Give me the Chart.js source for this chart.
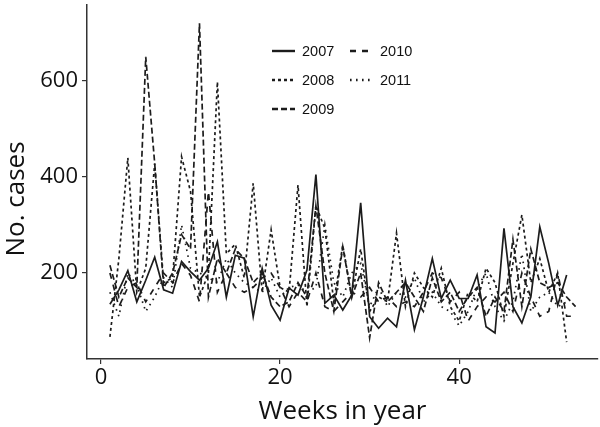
<!DOCTYPE html>
<html>
<head>
<meta charset="utf-8">
<script src="https://cdn.jsdelivr.net/npm/chart.js@4/dist/chart.umd.min.js"></script>
<style>
  html, body { margin: 0; padding: 0; background: #fff; }
  #wrap { width: 600px; height: 427px; }
</style>
</head>
<body>
<div id="wrap"><canvas id="chart" width="600" height="427"></canvas></div>
<script>
const weeks = [1, 2, 3, 4, 5, 6, 7, 8, 9, 10, 11, 12, 13, 14, 15, 16, 17, 18, 19, 20,
  21, 22, 23, 24, 25, 26, 27, 28, 29, 30, 31, 32, 33, 34, 35, 36, 37, 38, 39, 40,
  41, 42, 43, 44, 45, 46, 47, 48, 49, 50, 51, 52, 53];

const years = ['2007', '2008', '2009', '2010', '2011'];

const cases2007 = [135, 165, 205, 140, 185, 233, 165, 158, 224, 203, 185, 210, 265, 150, 237, 231, 109, 210, 133, 102,
  169, 154, 206, 405, 137, 154, 123, 154, 346, 109, 85, 106, 88, 185, 82, 150, 230, 147, 185, 147,
  147, 196, 88, 75, 293, 130, 96, 150, 296, 220, 133, 196];
const cases2008 = [67, 230, 440, 160, 210, 428, 180, 190, 442, 370, 150, 200, 598, 240, 260, 190, 387, 160, 290, 170,
  160, 383, 130, 340, 293, 140, 258, 150, 250, 120, 150, 140, 283, 130, 200, 170, 150, 210, 130, 100,
  160, 140, 210, 180, 110, 220, 321, 180, 230, 160, 200, 56];
const cases2009 = [216, 150, 190, 170, 650, 428, 170, 200, 280, 250, 720, 150, 230, 200, 250, 230, 180, 200, 150, 130,
  140, 180, 150, 340, 200, 120, 255, 150, 200, 65, 180, 140, 160, 180, 150, 120, 190, 140, 160, 120,
  150, 170, 110, 150, 120, 270, 130, 250, 180, 170, 180, 150, 130];
const cases2010 = [200, 130, 170, 180, 140, 170, 200, 180, 220, 195, 140, 370, 160, 200, 170, 160, 170, 190, 200, 170,
  130, 160, 140, 200, 130, 120, 140, 160, 150, 170, 140, 150, 130, 140, 130, 160, 200, 190, 140, 160,
  100, 130, 150, 140, 160, 120, 200, 150, 110, 120, 200, 110, 110];
const cases2011 = [160, 110, 200, 175, 120, 150, 190, 170, 300, 210, 200, 190, 180, 230, 200, 180, 170, 160, 190, 150,
  170, 175, 160, 170, 300, 180, 150, 200, 220, 130, 170, 130, 160, 150, 190, 140, 160, 130, 120, 90,
  120, 170, 200, 130, 100, 140, 240, 120, 150, 160, 130, 140];

const xTicks = [0, 20, 40];
const yTicks = [200, 400, 600];

const seriesValues = [cases2007, cases2008, cases2009, cases2010, cases2011];
const dashes = [[], [3, 3], [6, 3], [6, 6], [1.6, 4.4]];
const INK = '#1c1c1c';
const FONT = '"Open Sans", sans-serif';

const toPoints = (vals) => vals.map((v, i) => ({ x: weeks[i], y: v }));

// Legend drawn inside the plot, two columns like the original
const innerLegend = {
  id: 'innerLegend',
  afterDatasetsDraw(chart) {
    const ctx = chart.ctx;
    ctx.save();
    ctx.font = '14.5px "Liberation Sans", Arial, sans-serif';
    ctx.textBaseline = 'middle';
    ctx.fillStyle = '#111';
    chart.data.datasets.forEach((ds, i) => {
      const col = i < 3 ? 0 : 1;
      const row = i < 3 ? i : i - 3;
      const x0 = col === 0 ? 272 : 350;
      const y = 51 + row * 29;
      ctx.strokeStyle = ds.borderColor;
      ctx.lineWidth = 2.4;
      ctx.setLineDash(ds.borderDash);
      ctx.beginPath();
      ctx.moveTo(x0, y);
      ctx.lineTo(x0 + 23, y);
      ctx.stroke();
      ctx.setLineDash([]);
      ctx.fillText(ds.label, x0 + 30, y + 1);
    });
    ctx.restore();
  }
};

// y title sits a little below the panel centre in the original
const yTitle = {
  id: 'yTitle',
  afterDraw(chart) {
    const ctx = chart.ctx;
    ctx.save();
    ctx.translate(17, 199);
    ctx.rotate(-Math.PI / 2);
    ctx.font = '26px ' + FONT;
    ctx.fillStyle = '#111';
    ctx.textAlign = 'center';
    ctx.textBaseline = 'middle';
    ctx.fillText('No. cases', 0, 0);
    ctx.restore();
  }
};

new Chart(document.getElementById('chart'), {
  type: 'line',
  data: {
    datasets: years.map((yr, i) => ({
      label: yr,
      data: toPoints(seriesValues[i]),
      borderColor: INK,
      borderWidth: 1.7,
      borderDash: dashes[i],
      pointRadius: 0,
      tension: 0,
      fill: false,
    }))
  },
  options: {
    responsive: false,
    animation: false,
    layout: { padding: { top: 5, right: 2, left: 0, bottom: 0 } },
    plugins: {
      legend: { display: false },
      tooltip: { enabled: false }
    },
    scales: {
      x: {
        type: 'linear',
        min: -1.56,
        max: 55.5,
        afterBuildTicks: (axis) => { axis.ticks = xTicks.map(v => ({ value: v })); },
        afterFit: (axis) => { axis.height = 68; axis.paddingLeft = 0; axis.paddingRight = 0; },
        ticks: {
          color: '#111',
          font: { family: FONT, size: 22 },
          padding: 1,
          maxRotation: 0,
        },
        grid: { display: true, drawOnChartArea: false, drawTicks: true, tickLength: 5, color: '#333', lineWidth: 1.2 },
        border: { display: true, color: '#333', width: 1.5 },
        title: {
          display: true,
          text: 'Weeks in year',
          color: '#111',
          font: { family: FONT, size: 26 },
          padding: { top: 0, bottom: 0 }
        }
      },
      y: {
        min: 21,
        max: 758,
        afterBuildTicks: (axis) => { axis.ticks = yTicks.map(v => ({ value: v })); },
        afterFit: (axis) => { axis.width = 87; axis.paddingTop = 0; axis.paddingBottom = 0; },
        ticks: {
          color: '#111',
          font: { family: FONT, size: 22 },
          padding: 4,
        },
        grid: { display: true, drawOnChartArea: false, drawTicks: true, tickLength: 5, color: '#333', lineWidth: 1.2 },
        border: { display: true, color: '#333', width: 1.5 },
        title: { display: false }
      }
    }
  },
  plugins: [innerLegend, yTitle]
});
</script>
</body>
</html>
